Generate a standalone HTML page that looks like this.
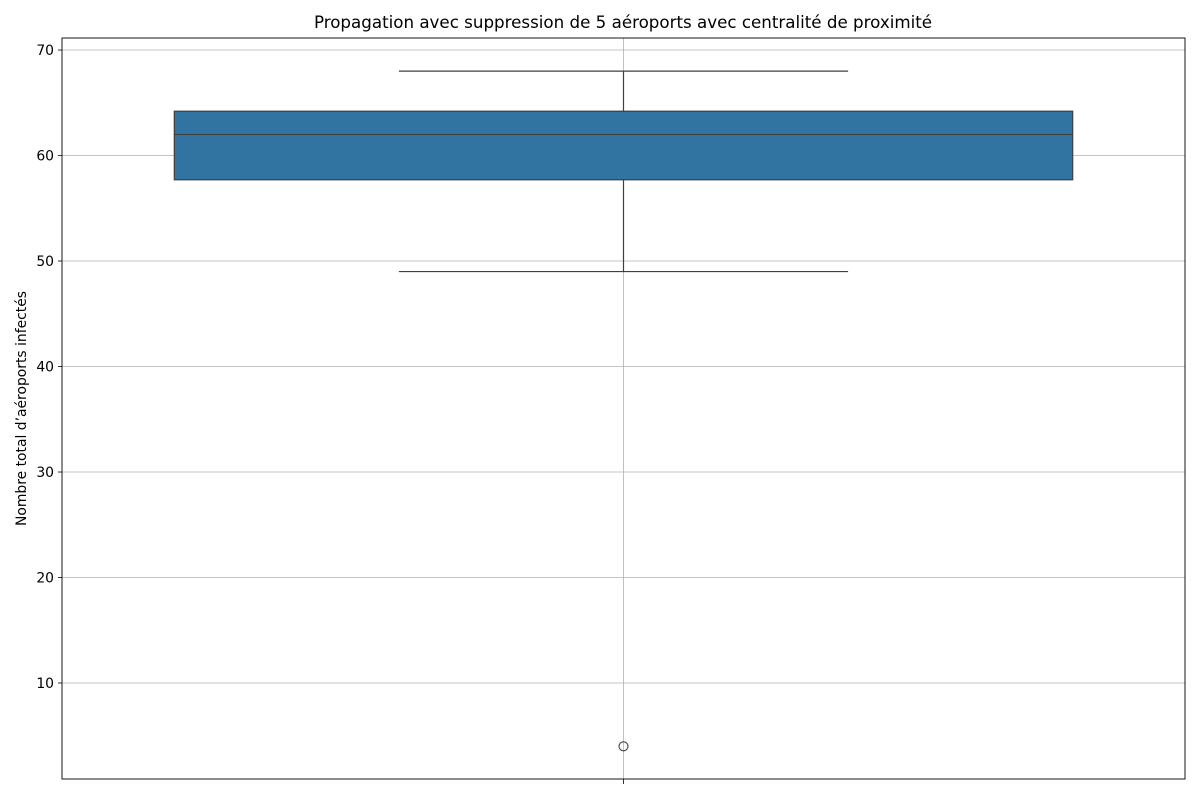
<!DOCTYPE html>
<html><head><meta charset="utf-8"><style>
body{margin:0;background:#fff;font-family:"DejaVu Sans",sans-serif;}
svg text{font-family:"DejaVu Sans",sans-serif;}
</style></head><body>
<svg id="c" width="1200" height="800"></svg>
<script>
const categories = ["aéroports"];
const q1 = [57.7];
const median = [62];
const q3 = [64.2];
const whiskerLow = [49];
const whiskerHigh = [68];
const outliers = [[4]];
const yTicks = [10, 20, 30, 40, 50, 60, 70];

const L=62,R=1185,T=38,B=779,yMin=0.9,yMax=71.14;
const svg=document.getElementById('c');
const NS='http://www.w3.org/2000/svg';
const y=v=>B-(v-yMin)/(yMax-yMin)*(B-T);
const bandW=(R-L)/categories.length;
const xc=i=>L+bandW*(i+0.5);
function mk(tag,attrs,parent){const e=document.createElementNS(NS,tag);for(const k in attrs)e.setAttribute(k,attrs[k]);(parent||svg).appendChild(e);return e;}

let t=mk('text',{x:623,y:28,'text-anchor':'middle','font-size':16.7,fill:'#000'});
t.textContent='Propagation avec suppression de 5 aéroports avec centralité de proximité';



yTicks.forEach(v=>{
  const g=mk('line',{x1:L,x2:R,y1:y(v),y2:y(v),stroke:'#b0b0b0','stroke-width':0.8});
  
  
  mk('line',{x1:L-4,x2:L,y1:y(v),y2:y(v),stroke:'#000','stroke-width':0.8});
  const tx=mk('text',{x:L-8,y:y(v)+5,'text-anchor':'end','font-size':13.9,fill:'#000'});
  tx.textContent=v;
  
  
});
categories.forEach((c,i)=>{
  const g=mk('line',{x1:xc(i),x2:xc(i),y1:T,y2:B,stroke:'#b0b0b0','stroke-width':0.8});
  
  
  mk('line',{x1:xc(i),x2:xc(i),y1:B,y2:B+5,stroke:'#000','stroke-width':0.8});
});

const yl=mk('text',{x:26,y:(T+B)/2,'text-anchor':'middle','font-size':13.9,fill:'#000',transform:`rotate(-90 26 ${(T+B)/2})`});
yl.textContent='Nombre total d’aéroports infectés';



categories.forEach((c,i)=>{
  const cx=xc(i),bw=bandW*0.8,cw=bw/2;
  const st={stroke:'#3f3f3f','stroke-width':1.2};
  let w=mk('line',Object.assign({x1:cx,x2:cx,y1:y(q1[i]),y2:y(whiskerLow[i])},st));
  
  
  w=mk('line',Object.assign({x1:cx,x2:cx,y1:y(q3[i]),y2:y(whiskerHigh[i])},st));
  
  
  w=mk('line',Object.assign({x1:cx-cw/2,x2:cx+cw/2,y1:y(whiskerLow[i]),y2:y(whiskerLow[i])},st));
  
  
  w=mk('line',Object.assign({x1:cx-cw/2,x2:cx+cw/2,y1:y(whiskerHigh[i]),y2:y(whiskerHigh[i])},st));
  
  
  const b=mk('rect',Object.assign({x:cx-bw/2,y:y(q3[i]),width:bw,height:y(q1[i])-y(q3[i]),fill:'#3274a1'},st));
  
  
  const m=mk('line',Object.assign({x1:cx-bw/2,x2:cx+bw/2,y1:y(median[i]),y2:y(median[i])},st));
  
  
  outliers[i].forEach(v=>{
    const o=mk('circle',{cx:cx,cy:y(v),r:4.5,fill:'none',stroke:'#3f3f3f','stroke-width':1.1});
    
    
  });
});

const fr=mk('rect',{x:L,y:T,width:R-L,height:B-T,fill:'none',stroke:'#000','stroke-width':0.9});


</script>
</body></html>
